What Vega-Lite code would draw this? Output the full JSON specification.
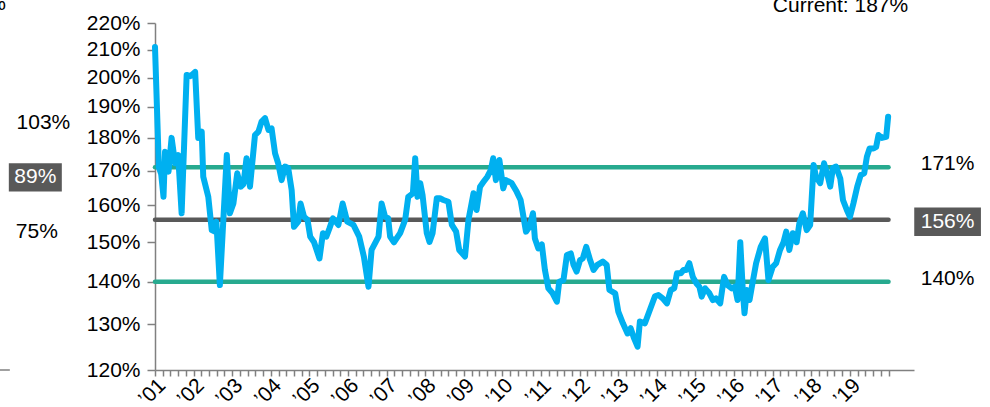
{
  "$schema": "https://vega.github.io/schema/vega-lite/v6.json",
  "width": 759,
  "height": 347,
  "autosize": {"type": "none"},
  "padding": {"left": 155, "top": 23, "right": 76, "bottom": 37},
  "background": "white",
  "config": {
    "view": {"stroke": null},
    "font": "Liberation Sans",
    "axis": {"labelOverlap": false, "labelBound": false, "labelFlush": false, "grid": false, "title": null}
  },
  "datasets": {
    "series": [
      {"t":2001.00,"v":211},{"t":2001.10,"v":171},{"t":2001.16,"v":169},{"t":2001.22,"v":162.4},{"t":2001.26,"v":175.7},{"t":2001.35,"v":169.7},{"t":2001.43,"v":180},{"t":2001.52,"v":172.2},{"t":2001.60,"v":174.7},{"t":2001.69,"v":157.8},{"t":2001.82,"v":200.9},{"t":2001.92,"v":200.5},{"t":2002.04,"v":202},{"t":2002.12,"v":180},{"t":2002.21,"v":182},{"t":2002.25,"v":168.2},{"t":2002.38,"v":162.4},{"t":2002.47,"v":153.2},{"t":2002.55,"v":152.8},{"t":2002.59,"v":155.5},{"t":2002.68,"v":139.2},{"t":2002.86,"v":174.7},{"t":2002.94,"v":157.8},{"t":2003.03,"v":160.5},{"t":2003.13,"v":169.2},{"t":2003.22,"v":165.3},{"t":2003.29,"v":166},{"t":2003.37,"v":173.7},{"t":2003.46,"v":165.3},{"t":2003.59,"v":180.9},{"t":2003.68,"v":182},{"t":2003.76,"v":185.2},{"t":2003.85,"v":186.3},{"t":2003.94,"v":182.5},{"t":2004.02,"v":183},{"t":2004.11,"v":175.2},{"t":2004.19,"v":172.2},{"t":2004.28,"v":167.2},{"t":2004.37,"v":171.2},{"t":2004.45,"v":170.8},{"t":2004.54,"v":164.3},{"t":2004.60,"v":154.1},{"t":2004.71,"v":155.5},{"t":2004.77,"v":160.5},{"t":2004.86,"v":156.8},{"t":2004.95,"v":156},{"t":2005.02,"v":151.5},{"t":2005.12,"v":150},{"t":2005.26,"v":145.8},{"t":2005.35,"v":152.4},{"t":2005.44,"v":151.5},{"t":2005.52,"v":153.7},{"t":2005.61,"v":156.4},{"t":2005.75,"v":154.6},{"t":2005.86,"v":160.5},{"t":2005.98,"v":155.5},{"t":2006.14,"v":154.6},{"t":2006.29,"v":151.5},{"t":2006.41,"v":146.3},{"t":2006.53,"v":138.8},{"t":2006.61,"v":148},{"t":2006.79,"v":151.5},{"t":2006.87,"v":160.5},{"t":2006.96,"v":156.8},{"t":2007.04,"v":156.4},{"t":2007.09,"v":151.5},{"t":2007.19,"v":150},{"t":2007.35,"v":152.4},{"t":2007.48,"v":156},{"t":2007.56,"v":162.4},{"t":2007.68,"v":163.4},{"t":2007.74,"v":173.7},{"t":2007.80,"v":162.4},{"t":2007.87,"v":166.3},{"t":2007.93,"v":162.9},{"t":2008.04,"v":152.4},{"t":2008.11,"v":150.1},{"t":2008.19,"v":152.4},{"t":2008.30,"v":162},{"t":2008.38,"v":162},{"t":2008.47,"v":161.5},{"t":2008.60,"v":161},{"t":2008.69,"v":154.6},{"t":2008.80,"v":152.8},{"t":2008.88,"v":148},{"t":2009.03,"v":146.3},{"t":2009.12,"v":156},{"t":2009.25,"v":163.4},{"t":2009.33,"v":158.7},{"t":2009.42,"v":165.3},{"t":2009.51,"v":166.7},{"t":2009.61,"v":168.2},{"t":2009.70,"v":170.2},{"t":2009.76,"v":173.7},{"t":2009.83,"v":167.2},{"t":2009.92,"v":173.2},{"t":2010.02,"v":164.8},{"t":2010.09,"v":167.2},{"t":2010.24,"v":166.3},{"t":2010.37,"v":163.8},{"t":2010.47,"v":161.5},{"t":2010.61,"v":152.8},{"t":2010.70,"v":154.1},{"t":2010.79,"v":157.8},{"t":2010.84,"v":151},{"t":2010.93,"v":148.4},{"t":2011.02,"v":149.4},{"t":2011.10,"v":142.9},{"t":2011.19,"v":138.4},{"t":2011.30,"v":137.2},{"t":2011.41,"v":135.2},{"t":2011.47,"v":140},{"t":2011.58,"v":140.4},{"t":2011.67,"v":146.7},{"t":2011.77,"v":147.1},{"t":2011.84,"v":144.2},{"t":2011.92,"v":142.5},{"t":2012.01,"v":145.4},{"t":2012.08,"v":145.8},{"t":2012.17,"v":148.8},{"t":2012.27,"v":145.4},{"t":2012.36,"v":142.9},{"t":2012.46,"v":144.2},{"t":2012.60,"v":145},{"t":2012.70,"v":144.2},{"t":2012.77,"v":138},{"t":2012.92,"v":137.2},{"t":2013.00,"v":132.9},{"t":2013.12,"v":130.2},{"t":2013.24,"v":127.9},{"t":2013.32,"v":129.1},{"t":2013.41,"v":126.8},{"t":2013.50,"v":125},{"t":2013.56,"v":130.6},{"t":2013.69,"v":130.2},{"t":2013.82,"v":133.3},{"t":2013.95,"v":136.5},{"t":2014.04,"v":136.8},{"t":2014.15,"v":136},{"t":2014.26,"v":134.8},{"t":2014.36,"v":138},{"t":2014.45,"v":138.4},{"t":2014.52,"v":142.1},{"t":2014.62,"v":142.1},{"t":2014.69,"v":142.9},{"t":2014.76,"v":142.9},{"t":2014.84,"v":144.6},{"t":2014.93,"v":141.2},{"t":2015.03,"v":139.5},{"t":2015.10,"v":138.8},{"t":2015.16,"v":136.4},{"t":2015.25,"v":138.4},{"t":2015.36,"v":137.2},{"t":2015.45,"v":135.6},{"t":2015.53,"v":136},{"t":2015.64,"v":134.8},{"t":2015.74,"v":141.2},{"t":2015.83,"v":139.2},{"t":2015.94,"v":138.4},{"t":2016.02,"v":138.8},{"t":2016.09,"v":135.6},{"t":2016.16,"v":150},{"t":2016.23,"v":137.2},{"t":2016.27,"v":132.5},{"t":2016.33,"v":138},{"t":2016.40,"v":135.6},{"t":2016.46,"v":138.8},{"t":2016.57,"v":144.6},{"t":2016.69,"v":148.8},{"t":2016.80,"v":151},{"t":2016.89,"v":140.4},{"t":2017.00,"v":143.7},{"t":2017.09,"v":144.6},{"t":2017.19,"v":148},{"t":2017.28,"v":150},{"t":2017.35,"v":152.8},{"t":2017.43,"v":148},{"t":2017.52,"v":152.4},{"t":2017.62,"v":150},{"t":2017.69,"v":155},{"t":2017.78,"v":157.8},{"t":2017.88,"v":153.2},{"t":2017.97,"v":154.6},{"t":2018.06,"v":171.7},{"t":2018.12,"v":168.2},{"t":2018.23,"v":166.3},{"t":2018.33,"v":172.2},{"t":2018.42,"v":168.7},{"t":2018.49,"v":165.3},{"t":2018.56,"v":170.8},{"t":2018.64,"v":171.2},{"t":2018.75,"v":167.7},{"t":2018.82,"v":161.5},{"t":2018.92,"v":158.7},{"t":2019.00,"v":156.8},{"t":2019.09,"v":160.5},{"t":2019.19,"v":165.3},{"t":2019.28,"v":168.7},{"t":2019.37,"v":169.2},{"t":2019.44,"v":174.2},{"t":2019.51,"v":176.7},{"t":2019.61,"v":176.7},{"t":2019.68,"v":177.2},{"t":2019.74,"v":180.9},{"t":2019.83,"v":180},{"t":2019.94,"v":180.3},{"t":2019.99,"v":186.8}
    ],
    "levels": [
      {"level": 171, "label": "171%", "kind": "band"},
      {"level": 156, "label": "156%", "kind": "mean"},
      {"level": 140, "label": "140%", "kind": "band"}
    ],
    "one": [{}]
  },
  "layer": [
    {
      "data": {"name": "series"},
      "mark": {"type": "line", "color": "#00B0F0", "strokeWidth": 6, "opacity": 0},
      "encoding": {
        "x": {
          "field": "t", "type": "quantitative",
          "scale": {"domain": [2001, 2020.66], "nice": false, "zero": false},
          "axis": {
            "orient": "bottom",
            "tickCount": 500,
            "values": [2001,2001.2,2001.4,2001.6,2001.8,2002,2002.2,2002.4,2002.6,2002.8,2003,2003.2,2003.4,2003.6,2003.8,2004,2004.2,2004.4,2004.6,2004.8,2005,2005.2,2005.4,2005.6,2005.8,2006,2006.2,2006.4,2006.6,2006.8,2007,2007.2,2007.4,2007.6,2007.8,2008,2008.2,2008.4,2008.6,2008.8,2009,2009.2,2009.4,2009.6,2009.8,2010,2010.2,2010.4,2010.6,2010.8,2011,2011.2,2011.4,2011.6,2011.8,2012,2012.2,2012.4,2012.6,2012.8,2013,2013.2,2013.4,2013.6,2013.8,2014,2014.2,2014.4,2014.6,2014.8,2015,2015.2,2015.4,2015.6,2015.8,2016,2016.2,2016.4,2016.6,2016.8,2017,2017.2,2017.4,2017.6,2017.8,2018,2018.2,2018.4,2018.6,2018.8,2019,2019.2,2019.4,2019.6,2019.8,2020],
            "labelExpr": "(datum.value % 1 === 0 && datum.value < 2020) ? '’' + substring(toString(datum.value), 2, 4) : ''",
            "labelAngle": -45, "labelAlign": "center", "labelBaseline": "middle",
            "labelPadding": 16, "labelOffset": -3, "labelFontSize": 21, "labelColor": "#000000", "labelFont": "Liberation Sans",
            "labelOverlap": false, "labelBound": false, "labelFlush": false,
            "tickSize": 6, "tickColor": "#808080", "tickWidth": 1.5,
            "domainColor": "#808080", "domainWidth": 1.5, "grid": false, "title": null
          }
        },
        "y": {
          "field": "v", "type": "quantitative",
          "scale": {"type": "log", "domain": [120, 220], "nice": false},
          "axis": {
            "orient": "left",
            "tickCount": 500,
            "values": [120,130,140,150,160,170,180,190,200,210,220],
            "labelExpr": "datum.value + '%'",
            "labelFontSize": 21, "labelColor": "#000000", "labelFont": "Liberation Sans", "labelPadding": 7,
            "labelOverlap": false, "labelFlush": false, "labelBound": false,
            "tickSize": 8, "tickColor": "#808080", "tickWidth": 1.5,
            "domainColor": "#808080", "domainWidth": 1.5, "grid": false, "title": null
          }
        }
      }
    },
    {
      "data": {"name": "levels"},
      "mark": {"type": "rule", "strokeWidth": 4.5, "strokeCap": "round"},
      "encoding": {
        "y": {"field": "level", "type": "quantitative"},
        "x": {"datum": 2001},
        "x2": {"datum": 2020},
        "color": {"field": "kind", "type": "nominal", "scale": {"domain": ["band", "mean"], "range": ["#27AA8F", "#595959"]}, "legend": null}
      }
    },
    {
      "data": {"name": "series"},
      "mark": {"type": "line", "color": "#00B0F0", "strokeWidth": 6, "strokeJoin": "round", "strokeCap": "round"},
      "encoding": {
        "x": {"field": "t", "type": "quantitative"},
        "y": {"field": "v", "type": "quantitative"}
      }
    },
    {
      "data": {"name": "levels"},
      "transform": [{"filter": "datum.kind == 'mean'"}],
      "mark": {"type": "point", "shape": "M-1,-0.426L1,-0.426L1,0.426L-1,0.426Z", "size": 4449, "filled": true, "color": "#595959", "opacity": 1, "strokeWidth": 0, "yOffset": 2},
      "encoding": {
        "x": {"datum": 2021.53},
        "y": {"field": "level", "type": "quantitative"}
      }
    },
    {
      "data": {"name": "levels"},
      "transform": [{"filter": "datum.kind == 'mean'"}],
      "mark": {"type": "text", "fontSize": 21, "font": "Liberation Sans", "align": "center", "baseline": "middle", "color": "#FFFFFF", "yOffset": 2},
      "encoding": {
        "x": {"datum": 2021.53},
        "y": {"field": "level", "type": "quantitative"},
        "text": {"field": "label"}
      }
    },
    {
      "data": {"name": "levels"},
      "transform": [{"filter": "datum.kind == 'band'"}],
      "mark": {"type": "text", "fontSize": 21, "font": "Liberation Sans", "align": "center", "baseline": "middle", "color": "#000000", "yOffset": -3},
      "encoding": {
        "x": {"datum": 2021.53},
        "y": {"field": "level", "type": "quantitative"},
        "text": {"field": "label"}
      }
    },
    {
      "data": {"name": "one"},
      "mark": {"type": "point", "shape": "M-1,-0.534L1,-0.534L1,0.534L-1,0.534Z", "size": 2809, "filled": true, "color": "#595959", "opacity": 1, "strokeWidth": 0},
      "encoding": {
        "x": {"datum": 1997.9},
        "y": {"datum": 168.0}
      }
    },
    {
      "data": {"name": "one"},
      "mark": {"type": "text", "fontSize": 21, "font": "Liberation Sans", "align": "center", "baseline": "middle", "color": "#FFFFFF", "text": "89%"},
      "encoding": {
        "x": {"datum": 1997.9},
        "y": {"datum": 168.0}
      }
    },
    {
      "data": {"name": "one"},
      "mark": {"type": "text", "fontSize": 21, "font": "Liberation Sans", "align": "center", "baseline": "middle", "color": "#000000", "text": "103%"},
      "encoding": {
        "x": {"datum": 1998.11},
        "y": {"datum": 184.6}
      }
    },
    {
      "data": {"name": "one"},
      "mark": {"type": "text", "fontSize": 21, "font": "Liberation Sans", "align": "center", "baseline": "middle", "color": "#000000", "text": "75%"},
      "encoding": {
        "x": {"datum": 1997.94},
        "y": {"datum": 152.8}
      }
    },
    {
      "data": {"name": "one"},
      "mark": {"type": "text", "fontSize": 21, "font": "Liberation Sans", "align": "right", "baseline": "alphabetic", "color": "#000000", "text": "Current: 187%"},
      "encoding": {
        "x": {"datum": 2020.51},
        "y": {"datum": 224.4}
      }
    },
    {
      "data": {"name": "one"},
      "mark": {"type": "text", "fontSize": 21, "font": "Liberation Sans", "align": "right", "baseline": "alphabetic", "color": "#000000", "text": "%"},
      "encoding": {
        "x": {"datum": 1997.14},
        "y": {"datum": 225.0}
      }
    },
    {
      "data": {"name": "one"},
      "mark": {"type": "rule", "color": "#808080", "strokeWidth": 1.5},
      "encoding": {
        "x": {"datum": 1996.9},
        "x2": {"datum": 1997.24},
        "y": {"datum": 120}
      }
    }
  ]
}
